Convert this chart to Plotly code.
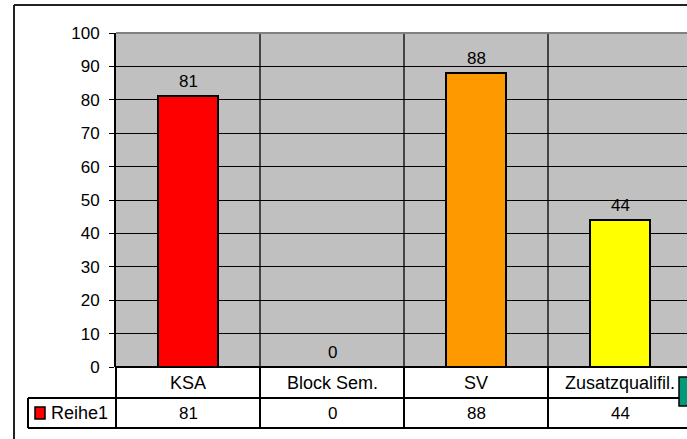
import plotly.graph_objects as go

categories = ["KSA", "Block Sem.", "SV", "Zusatzqualifil."]
values = [81, 0, 88, 44]
bar_colors = ["#FF0000", "#993366", "#FF9900", "#FFFF00"]
series_name = "Reihe1"
y_ticks = [0, 10, 20, 30, 40, 50, 60, 70, 80, 90, 100]

W, H = 687, 439
L, T, B, R = 116, 33, 72, 0
PW, PH = W - L - R, H - T - B
CAT_W = 144.0
x0 = -0.5
x1 = x0 + PW / CAT_W

def px_x(p):
    return (p - L) / PW

def px_y(p):
    return (H - B - p) / PH

def cat_paper(c):
    return (c - x0) / (x1 - x0)

FONT = "Liberation Sans, Arial, sans-serif"

fig = go.Figure()
fig.add_trace(go.Bar(
    x=list(range(len(categories))), y=values, width=0.415,
    marker=dict(color=bar_colors, line=dict(color="#000000", width=2)),
    name=series_name, showlegend=False, hoverinfo="skip",
))

shapes = []
for i in range(len(categories)):
    shapes.append(dict(type="line", xref="x", yref="y", x0=i + 0.5, x1=i + 0.5, y0=0, y1=100,
                       line=dict(color="#1a1a1a", width=1.5), layer="below"))
shapes.append(dict(type="line", xref="paper", yref="paper", x0=0, x1=1, y0=1, y1=1,
                   line=dict(color="#808080", width=2)))
y_row1_bot = px_y(398)
y_row2_bot = px_y(428)
shapes.append(dict(type="line", xref="paper", yref="paper", x0=0, x1=1.02, y0=0, y1=0,
                   line=dict(color="#000000", width=2)))
shapes.append(dict(type="line", xref="paper", yref="paper", x0=px_x(28), x1=1.02, y0=y_row1_bot, y1=y_row1_bot,
                   line=dict(color="#000000", width=2)))
shapes.append(dict(type="line", xref="paper", yref="paper", x0=px_x(28), x1=1.02, y0=y_row2_bot, y1=y_row2_bot,
                   line=dict(color="#000000", width=2)))
shapes.append(dict(type="line", xref="paper", yref="paper", x0=px_x(28), x1=px_x(28), y0=y_row1_bot, y1=y_row2_bot,
                   line=dict(color="#000000", width=2)))
shapes.append(dict(type="line", xref="paper", yref="paper", x0=0, x1=0, y0=0, y1=y_row2_bot,
                   line=dict(color="#000000", width=2)))
for i in range(len(categories)):
    xp = cat_paper(i + 0.5)
    shapes.append(dict(type="line", xref="paper", yref="paper", x0=xp, x1=xp, y0=0, y1=y_row2_bot,
                       line=dict(color="#000000", width=2)))
shapes.append(dict(type="rect", xref="paper", yref="paper", x0=px_x(35), x1=px_x(45), y0=px_y(419), y1=px_y(407),
                   fillcolor=bar_colors[0], line=dict(color="#000000", width=1.5)))
shapes.append(dict(type="rect", xref="paper", yref="paper", x0=px_x(679), x1=px_x(692), y0=px_y(406), y1=px_y(377),
                   fillcolor="#00997A", line=dict(color="#000000", width=1.5)))
shapes.append(dict(type="line", xref="paper", yref="paper", x0=px_x(14), x1=px_x(14), y0=px_y(5), y1=px_y(445),
                   line=dict(color="#222222", width=2)))
shapes.append(dict(type="line", xref="paper", yref="paper", x0=px_x(14), x1=1.02, y0=px_y(5), y1=px_y(5),
                   line=dict(color="#222222", width=2)))

annotations = []
for i, (c, v) in enumerate(zip(categories, values)):
    annotations.append(dict(x=i, y=v, xref="x", yref="y", text=str(v), showarrow=False,
                            yanchor="middle", yshift=15, font=dict(family=FONT, size=17, color="#000")))
    annotations.append(dict(x=i, y=px_y(383), xref="x", yref="paper", text=c, showarrow=False,
                            yanchor="middle", font=dict(family=FONT, size=18, color="#000")))
    annotations.append(dict(x=i, y=px_y(413), xref="x", yref="paper", text=str(v), showarrow=False,
                            yanchor="middle", font=dict(family=FONT, size=17, color="#000")))
annotations.append(dict(x=px_x(49), y=px_y(413), xref="paper", yref="paper", text=series_name, showarrow=False,
                        xanchor="left", yanchor="middle", font=dict(family=FONT, size=18, color="#000")))

fig.update_layout(
    width=W, height=H,
    margin=dict(l=L, r=R, t=T, b=B, pad=0),
    paper_bgcolor="#FFFFFF", plot_bgcolor="#C0C0C0",
    shapes=shapes, annotations=annotations,
    bargap=0,
    xaxis=dict(range=[x0, x1], showticklabels=False, showgrid=False, zeroline=False, ticks="",
               fixedrange=True),
    yaxis=dict(range=[0, 100], tickvals=y_ticks, ticks="outside", ticklen=5, tickcolor="#000",
               ticklabelstandoff=6,
               showgrid=True, gridcolor="#000000", gridwidth=1, zeroline=False,
               showline=True, linecolor="#000000", linewidth=2,
               tickfont=dict(family=FONT, size=17, color="#000"), fixedrange=True),
    showlegend=False,
)

fig.write_html("out.html", config={"displayModeBar": False},
               post_script="document.body.style.margin='0';document.body.style.overflow='hidden';")
